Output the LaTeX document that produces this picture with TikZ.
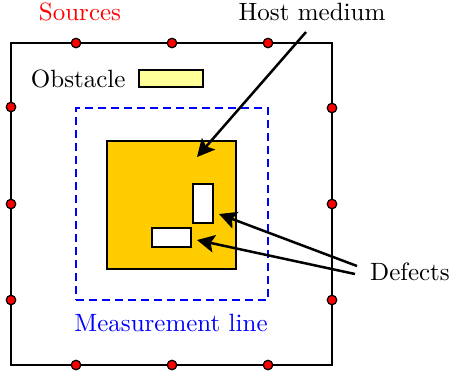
\documentclass[tikz,border=0pt]{standalone}
\usetikzlibrary{arrows.meta,
                positioning}
\definecolor{hostorange}{HTML}{FFCC00}
\definecolor{obstyellow}{HTML}{FFFF99}
\tikzset{box/.style=
   {rectangle,
    draw,
    line width=0.7pt,
    inner sep=0pt}}
\tikzset{source/.style=
   {circle,
    draw,
    fill=red,
    line width=0.5pt,
    inner sep=0pt,
    minimum size=3.8pt}}
\tikzset{arrow/.style = {draw, line width=1pt, -{Stealth[length=7pt,width=7pt,inset=1.4pt]}}}

\begin{document}
\begin{tikzpicture}[x=0.4pt, y=-0.4pt]

    \useasboundingbox (0,0) rectangle (452,375);

    % Blocks
    \node [box, minimum width=128.4pt, minimum height=128.8pt] (domain) at (171.5,204) {};
    \node [box, draw=blue, dashed, dash pattern=on 3.2pt off 2pt, minimum width=76.8pt, minimum height=76.8pt] (meas) at (172,204) {};
    \node [box, fill=hostorange, minimum width=51.6pt, minimum height=51.2pt] (host) at (171.5,205) {};
    \node [box, fill=white, minimum width=8pt, minimum height=15.6pt] (defect1) at (203,203.5) {};
    \node [box, fill=white, minimum width=15.6pt, minimum height=7.6pt] (defect2) at (171.5,237.5) {};
    \node [box, fill=obstyellow, minimum width=25.6pt, minimum height=6.8pt] (obstacle) at (171,78.5) {};

    % Sources
    \node [source] (s1) at (76,43) {};
    \node [source] (s2) at (172,43) {};
    \node [source] (s3) at (268,43) {};
    \node [source] (s4) at (332,108) {};
    \node [source] (s5) at (332,204) {};
    \node [source] (s6) at (332,300) {};
    \node [source] (s7) at (268,365) {};
    \node [source] (s8) at (172,365) {};
    \node [source] (s9) at (76,365) {};
    \node [source] (s10) at (11,300) {};
    \node [source] (s11) at (11,204) {};
    \node [source] (s12) at (11,107) {};

    % Labels
    \node [text=red] (sourceslabel) at (80,12) {Sources};
    \node [left=1.5pt of obstacle] (obstaclelabel) {Obstacle};
    \node (hostlabel) at (312,12) {Host medium};
    \node (defectslabel) at (410,272) {Defects};
    \node [text=blue] (measlabel) at (171,323) {Measurement line};

    % Draw edges
    \coordinate (hostfrom) at (306,32);
    \coordinate (hostto) at (197,157);
    \coordinate (defectfrom1) at (357,266);
    \coordinate (defectto1) at (219,214);
    \coordinate (defectfrom2) at (355,274);
    \coordinate (defectto2) at (197,240);

    \path [arrow]
    (hostfrom) -- (hostto);

    \path [arrow]
    (defectfrom1) -- (defectto1);

    \path [arrow]
    (defectfrom2) -- (defectto2);

\end{tikzpicture}
\end{document}
